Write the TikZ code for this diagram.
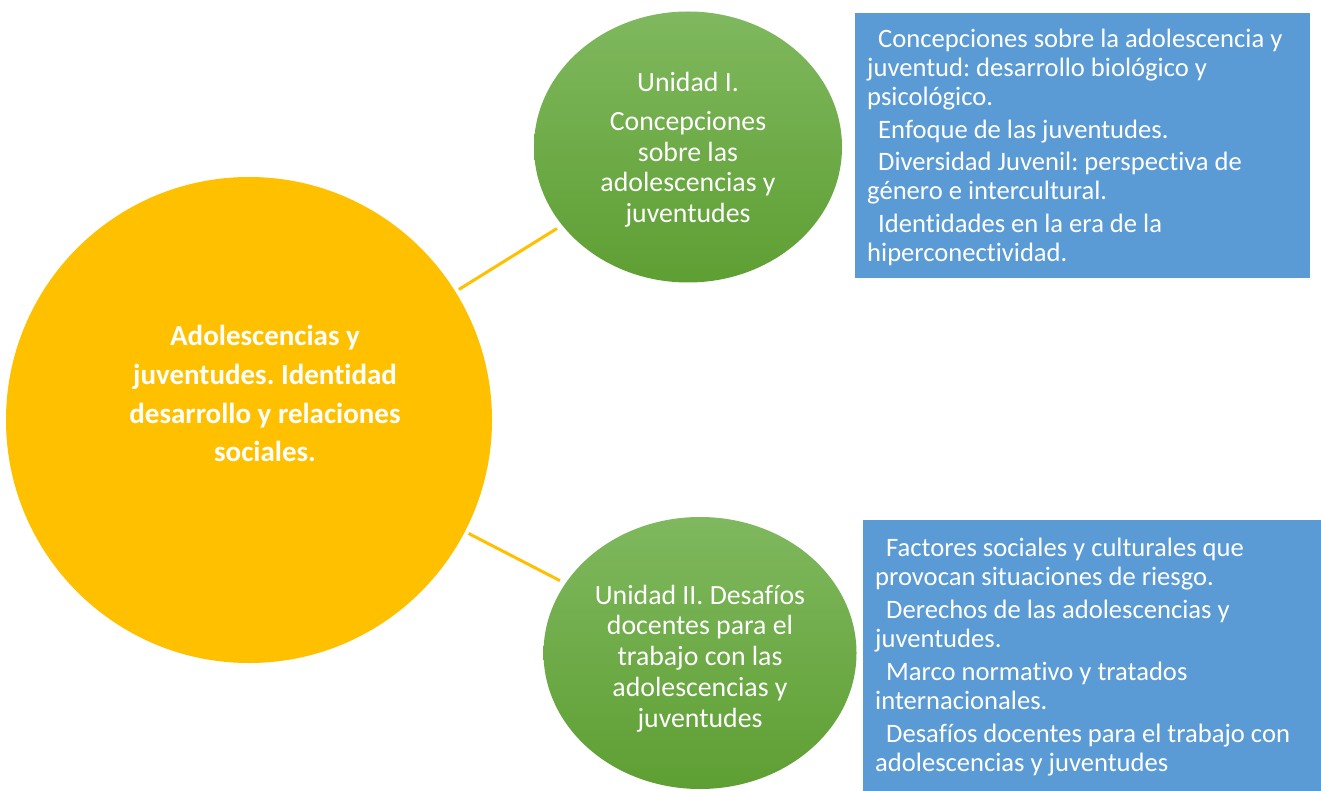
\documentclass[tikz,border=0pt]{standalone}
\usepackage{fontspec}
\setmainfont{Carlito}[Ligatures={NoCommon}]
\usetikzlibrary{shapes.geometric}
\definecolor{ygold}{HTML}{FFC000}
\definecolor{gtop}{HTML}{7FB85E}
\definecolor{gbot}{HTML}{5E9F33}
\definecolor{bbox}{HTML}{5B9BD5}
\tikzset{
  yellowcirc/.style={circle, fill=ygold, minimum size=486pt, inner sep=0pt},
  greenell/.style={ellipse, top color=gtop, bottom color=gbot, draw=none, minimum width=310pt, minimum height=270pt, inner sep=0pt},
  bluebox/.style={rectangle, fill=bbox, inner sep=0pt, anchor=north west},
  bluetext/.style={text=white, align=left, inner sep=0pt, anchor=north west, font=\fontsize{26.6}{28.8}\selectfont\frenchspacing},
  greentext/.style={text=white, align=center, inner sep=0pt, anchor=north, font=\fontsize{27.8}{30.8}\selectfont\frenchspacing},
  yellowtext/.style={text=white, align=center, inner sep=0pt, anchor=north, font=\fontsize{29}{38.8}\selectfont\bfseries\frenchspacing},
  link/.style={draw=ygold, line width=3pt}
}
\begin{document}
\begin{tikzpicture}[x=1pt,y=-1pt]
\useasboundingbox (0,0) rectangle (1321,791);
\fill[white] (0,0) rectangle (1321,791);
\begin{scope}
\clip (0,0) rectangle (1321,791);
% main circle
\node[yellowcirc] (Y) at (249,420) {};
\node[yellowtext] (Yt) at (265,325) {Adolescencias y\\juventudes. Identidad\\desarrollo y relaciones\\sociales.};
% unit circles
\node[greenell, minimum width=308pt, minimum height=271pt] (G1) at (688,147) {};
\node[greentext] (G1t) at (688,71.5) {Unidad I.\\[8.5pt]Concepciones\\sobre las\\adolescencias y\\juventudes};
\node[greenell, minimum width=313pt, minimum height=272pt] (G2) at (700,653) {};
\node[greentext] (G2t) at (700,584.5) {Unidad II. Desafíos\\docentes para el\\trabajo con las\\adolescencias y\\juventudes};
% connectors
\draw[link, shorten <=4pt, shorten >=6pt] (Y) -- (G1);
\draw[link, shorten <=4pt, shorten >=6pt] (Y) -- (G2);
% blue boxes
\node[bluebox, minimum width=455pt, minimum height=265pt] (B1) at (855,13) {};
\node[bluetext] (B1t) at (867,29) {\hspace*{11pt}Concepciones sobre la adolescencia y\\juventud: desarrollo biológico y\\psicológico.\\[4pt]
\hspace*{11pt}Enfoque de las juventudes.\\[4pt]
\hspace*{11pt}Diversidad Juvenil: perspectiva de\\género e intercultural.\\[4pt]
\hspace*{11pt}Identidades en la era de la\\hiperconectividad.};
\node[bluebox, minimum width=458pt, minimum height=272pt] (B2) at (863,520) {};
\node[bluetext] (B2t) at (875,538) {\hspace*{11pt}Factores sociales y culturales que\\provocan situaciones de riesgo.\\[4.5pt]
\hspace*{11pt}Derechos de las adolescencias y\\juventudes.\\[4.5pt]
\hspace*{11pt}Marco normativo y tratados\\internacionales.\\[4.5pt]
\hspace*{11pt}Desafíos docentes para el trabajo con\\adolescencias y juventudes};
\end{scope}
\end{tikzpicture}
\end{document}
